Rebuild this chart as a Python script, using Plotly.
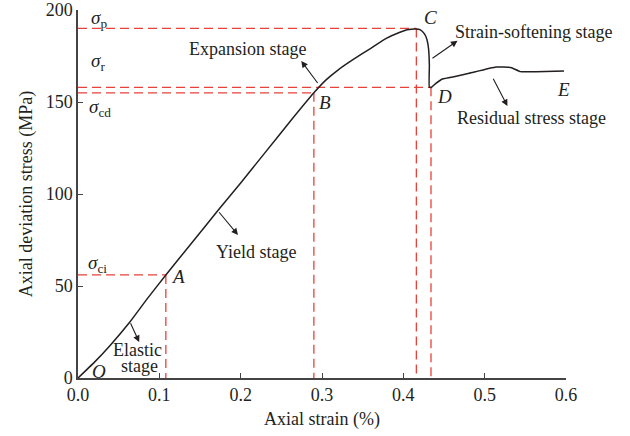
import plotly.graph_objects as go

# Stress-strain curve (axial strain %, axial deviation stress MPa)
strain = [0.0, 0.02, 0.04, 0.064, 0.085, 0.108, 0.14, 0.172, 0.20, 0.23, 0.26, 0.29,
          0.305, 0.32, 0.338, 0.36, 0.379, 0.395, 0.405, 0.4155, 0.421, 0.426, 0.429,
          0.431, 0.432, 0.432, 0.4345, 0.44, 0.448, 0.465, 0.481, 0.514, 0.532, 0.544,
          0.563, 0.5975]
stress = [0.0, 8.5, 18.0, 30.6, 43.0, 56.0, 73.5, 91.0, 106.0, 122.5, 139.0, 155.0,
          162.0, 167.5, 173.0, 179.2, 184.6, 187.8, 189.3, 189.7, 189.2, 187.0, 184.0,
          179.0, 170.0, 158.0, 158.0, 160.1, 162.5, 164.0, 165.6, 169.0, 168.8, 166.5,
          166.5, 166.8]

# Characteristic points A, B, C, D
point_names = ["A", "B", "C", "D"]
point_strain = [0.108, 0.29, 0.416, 0.434]
point_stress = [56, 155, 190, 158]   # sigma_ci, sigma_cd, sigma_p, sigma_r
sigma_labels = ["ci", "cd", "p", "r"]

x_ticks = [0.0, 0.1, 0.2, 0.3, 0.4, 0.5, 0.6]
x_tick_text = ["0.0", "0.1", "0.2", "0.3", "0.4", "0.5", "0.6"]
y_ticks = [0, 50, 100, 150, 200]

RED = "#e8423b"
INK = "#231f20"
FONT = "Liberation Serif"

fig = go.Figure()

# dashed reference lines
for xs, ys in zip(point_strain, point_stress):
    fig.add_trace(go.Scatter(x=[0, xs], y=[ys, ys], mode="lines",
                             line=dict(color=RED, width=1.3, dash="9px,5px"),
                             hoverinfo="skip", showlegend=False))
    fig.add_trace(go.Scatter(x=[xs, xs], y=[ys, 0], mode="lines",
                             line=dict(color=RED, width=1.3, dash="9px,5px"),
                             hoverinfo="skip", showlegend=False))

fig.add_trace(go.Scatter(x=strain, y=stress, mode="lines", line_shape="spline",
                         line=dict(color=INK, width=1.5, smoothing=0.4), showlegend=False))

ann = []
def txt(x, y, t, size=18, xanchor="center"):
    ann.append(dict(x=x, y=y, xref="x", yref="y", text=t, showarrow=False,
                    font=dict(family=FONT, size=size, color=INK), xanchor=xanchor,
                    yanchor="middle"))

# sigma labels
sig_pos = {"ci": (0.024, 62), "cd": (0.027, 147), "p": (0.0255, 195), "r": (0.0245, 172)}
for s in sigma_labels:
    x, y = sig_pos[s]
    txt(x, y, "<i>σ</i><sub>%s</sub>" % s, size=19)

# point letters
letter_pos = {"A": (0.123, 55), "B": (0.304, 149.5), "C": (0.434, 196), "D": (0.450, 153),
              "E": (0.5975, 157), "O": (0.026, 3.5)}
for k, (x, y) in letter_pos.items():
    txt(x, y, "<i>%s</i>" % k, size=19)

txt(0.0730, 15.0, "Elastic", size=18)
txt(0.0760, 6.5, "stage", size=18)
txt(0.2184, 68.5, "Yield stage", size=18)
txt(0.2086, 178.8, "Expansion stage", size=18)
txt(0.5595, 188, "Strain-softening stage", size=18)
txt(0.558, 141.3, "Residual stress stage", size=18)

arrows = [((0.0638, 30.6), (0.0752, 19.5)),
          ((0.172, 90.9), (0.1967, 77.7)),
          ((0.296, 159.5), (0.2745, 172.3)),
          ((0.434, 173.2), (0.4666, 183.3)),
          ((0.5096, 163.4), (0.528, 147.8))]
for (tx, ty), (hx, hy) in arrows:
    ann.append(dict(x=hx, y=hy, ax=tx, ay=ty, xref="x", yref="y", axref="x", ayref="y",
                    text="", showarrow=True, arrowhead=2, arrowsize=1.2, arrowwidth=1.1,
                    arrowcolor=INK, standoff=0, startstandoff=0))

fig.update_layout(
    width=630, height=436,
    margin=dict(l=78, r=64, t=10, b=58, autoexpand=False),
    paper_bgcolor="white", plot_bgcolor="white",
    font=dict(family=FONT, size=18, color=INK),
    annotations=ann,
    xaxis=dict(range=[0, 0.6], tickvals=x_ticks, ticktext=x_tick_text,
               ticks="inside", ticklen=5, tickwidth=1.3, tickcolor="#444",
               showline=True, linecolor="#444", linewidth=1.5, showgrid=False,
               zeroline=False, tickfont=dict(size=18), automargin=False,
               title=dict(text="Axial strain (%)", font=dict(size=18), standoff=8)),
    yaxis=dict(range=[0, 200], tickvals=y_ticks,
               ticks="inside", ticklen=5, tickwidth=1.3, tickcolor="#444",
               showline=True, linecolor="#444", linewidth=1.5, showgrid=False,
               zeroline=False, tickfont=dict(size=18), automargin=False,
               title=dict(text="Axial deviation stress (MPa)", font=dict(size=18), standoff=8)),
)

fig.write_html("out.html", config={"displayModeBar": False},
               post_script="document.body.style.margin='0';")
